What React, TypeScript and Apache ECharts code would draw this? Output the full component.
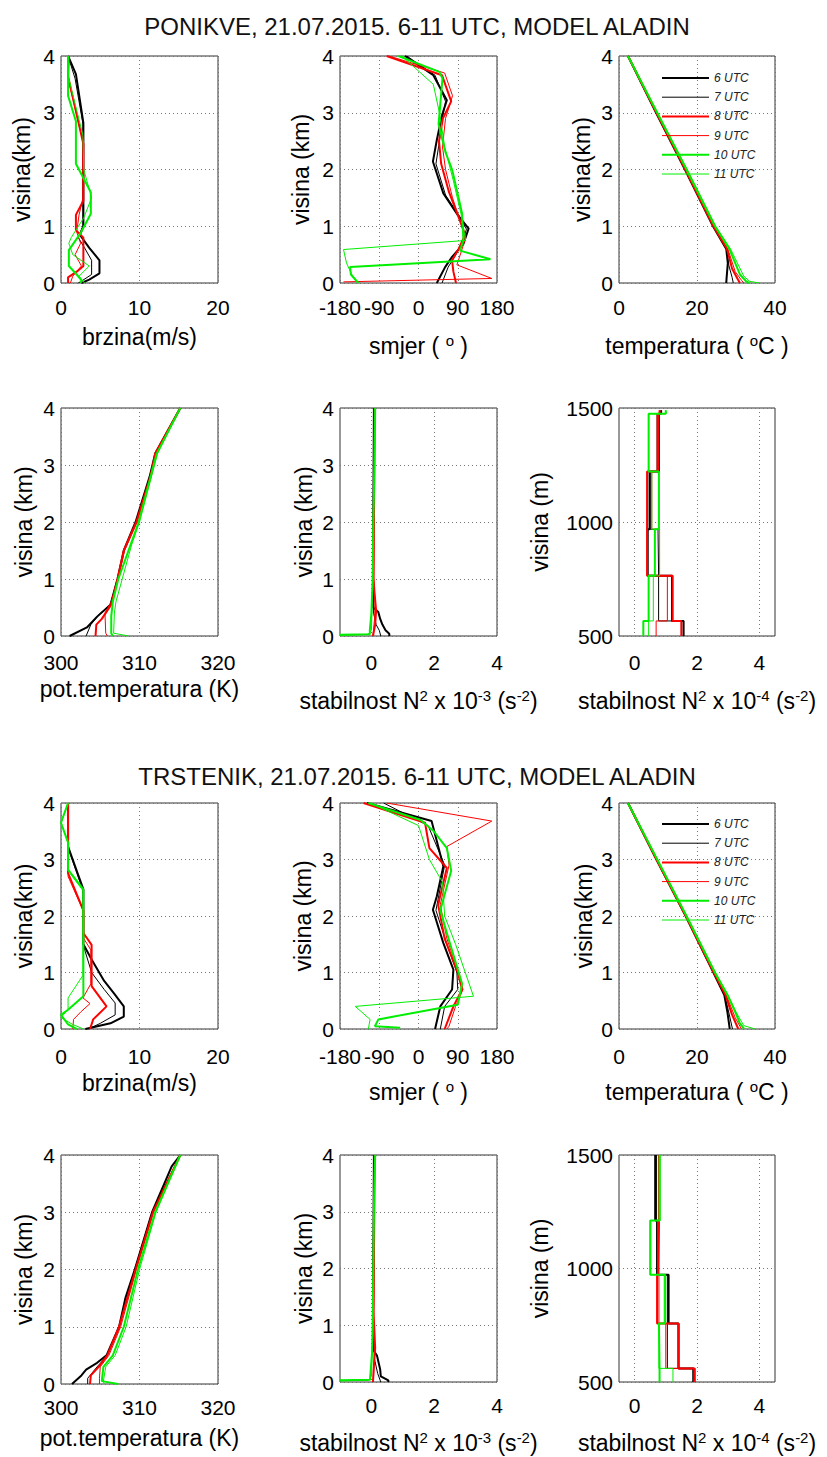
import React, { useEffect, useRef } from "react";
import * as echarts from "echarts";

type Pt = [number, number];

const HOURS = ["6 UTC", "7 UTC", "8 UTC", "9 UTC", "10 UTC", "11 UTC"];
const TITLE_TOP = "PONIKVE, 21.07.2015. 6-11 UTC, MODEL ALADIN";
const TITLE_BOTTOM = "TRSTENIK, 21.07.2015. 6-11 UTC, MODEL ALADIN";

// ---------- PONIKVE ----------
const PON_BRZINA: Pt[][] = [
  [[0.9, 4], [1.9, 3.68], [2.85, 2.82], [2.85, 1.0], [2.4, 0.85], [3.6, 0.62], [4.9, 0.4], [4.9, 0.17], [3.6, 0.06], [2.6, 0]],
  [[0.9, 4], [1.8, 3.6], [2.8, 2.8], [2.8, 1.0], [2.2, 0.8], [3.0, 0.62], [3.9, 0.4], [3.9, 0.15], [2.8, 0.05], [2.2, 0]],
  [[1.0, 4], [0.9, 3.64], [2.85, 2.45], [2.85, 1.45], [1.9, 1.2], [1.9, 0.93], [2.85, 0.8], [2.85, 0.3], [2.0, 0.2], [0.9, 0.1], [0.9, 0]],
  [[1.0, 4], [0.9, 3.6], [2.8, 2.5], [2.8, 1.5], [2.3, 1.2], [2.0, 0.9], [2.5, 0.7], [1.8, 0.5], [2.6, 0.3], [1.5, 0.12], [1.2, 0]],
  [[0.9, 4], [0.9, 3.3], [1.9, 2.85], [1.9, 2.1], [3.8, 1.6], [3.8, 1.22], [2.5, 0.88], [1.0, 0.58], [1.0, 0.3], [2.0, 0.15], [2.6, 0.05], [2.5, 0]],
  [[0.9, 4], [1.0, 3.6], [2.8, 2.6], [2.9, 2.0], [3.9, 1.5], [2.9, 1.15], [1.3, 0.8], [1.0, 0.7], [1.5, 0.5], [3.6, 0.3], [2.3, 0.12], [3.0, 0]],
];
const PON_SMJER: Pt[][] = [
  [[-31, 4], [34, 3.66], [65, 3.22], [54, 2.96], [42, 2.52], [33, 2.14], [57, 1.58], [88, 1.22], [115, 0.96], [103, 0.69], [77, 0.46], [61, 0.28], [42, 0]],
  [[-27, 4], [38, 3.66], [62, 3.2], [55, 2.9], [46, 2.4], [40, 2.1], [62, 1.55], [92, 1.2], [110, 0.95], [100, 0.7], [82, 0.45], [68, 0.28], [54, 0]],
  [[-73, 4], [54, 3.66], [75, 3.2], [56, 2.9], [47, 2.5], [52, 2.1], [70, 1.6], [90, 1.2], [107, 0.85], [92, 0.6], [77, 0.4], [80, 0.2], [86, 0]],
  [[-68, 4], [60, 3.7], [78, 3.3], [62, 2.9], [55, 2.4], [62, 2.0], [78, 1.5], [95, 1.1], [108, 0.8], [98, 0.55], [88, 0.32], [168, 0.08], [-172, 0.02]],
  [[-46, 4], [48, 3.72], [55, 3.6], [46, 2.8], [62, 2.3], [77, 2.0], [92, 1.5], [100, 1.22], [103, 0.75], [95, 0.57], [165, 0.42], [-157, 0.28], [-155, 0.15], [-140, 0.02], [-138, 0]],
  [[-38, 4], [34, 3.5], [48, 3.0], [60, 2.4], [80, 1.8], [98, 1.2], [108, 0.75], [-172, 0.59], [-165, 0.35], [-150, 0.1], [-140, 0]],
];
const PON_TEMP: Pt[][] = [
  [[2.3, 4], [9.5, 3], [16.9, 2], [24.1, 1], [27.5, 0.6], [27.9, 0.35], [27.6, 0.1], [27.5, 0]],
  [[2.3, 4], [9.6, 3], [17.0, 2], [24.2, 1], [27.6, 0.6], [28.2, 0.3], [29.0, 0.1], [29.3, 0]],
  [[2.3, 4], [9.6, 3], [17.0, 2], [24.2, 1], [27.7, 0.6], [29.0, 0.25], [30.5, 0.06], [31.0, 0]],
  [[2.3, 4], [9.7, 3], [17.1, 2], [24.3, 1], [27.9, 0.6], [29.8, 0.2], [31.5, 0.04], [32.0, 0]],
  [[2.3, 4], [9.8, 3], [17.3, 2], [24.6, 1], [28.3, 0.6], [31.0, 0.15], [32.6, 0.03], [33.5, 0]],
  [[2.3, 4], [9.9, 3], [17.5, 2], [24.8, 1], [28.6, 0.6], [32.0, 0.12], [33.5, 0.03], [36.0, 0]],
];
const PON_POT: Pt[][] = [
  [[315.2, 4], [312.0, 3.2], [311.3, 2.8], [309.5, 2.0], [308.0, 1.5], [307.2, 1.0], [306.3, 0.55], [304.6, 0.34], [303.3, 0.15], [301.1, 0]],
  [[315.2, 4], [312.0, 3.2], [311.4, 2.8], [309.6, 2.0], [308.0, 1.5], [307.2, 1.0], [306.3, 0.55], [305.0, 0.4], [303.8, 0.2], [303.2, 0]],
  [[315.2, 4], [312.0, 3.2], [311.4, 2.8], [309.6, 2.0], [308.0, 1.5], [307.2, 1.0], [306.4, 0.55], [305.2, 0.3], [304.5, 0.2], [304.4, 0]],
  [[315.2, 4], [312.1, 3.2], [311.5, 2.8], [309.7, 2.0], [308.1, 1.5], [307.3, 1.0], [306.4, 0.6], [305.6, 0.4], [305.7, 0.05], [305.9, 0]],
  [[315.2, 4], [312.2, 3.2], [309.9, 2.0], [308.6, 1.5], [307.3, 1.0], [306.6, 0.6], [306.4, 0.35], [306.4, 0.05], [306.6, 0]],
  [[315.2, 4], [312.3, 3.2], [310.0, 2.0], [309.0, 1.6], [307.8, 1.0], [307.0, 0.6], [306.8, 0.4], [306.7, 0.05], [308.6, 0]],
];
const PON_N2: Pt[][] = [
  [[0.08, 4], [0.06, 2], [0.05, 1], [0.06, 0.5], [0.22, 0.42], [0.28, 0.3], [0.35, 0.2], [0.45, 0.1], [0.57, 0.04], [0.57, 0]],
  [[0.08, 4], [0.06, 2], [0.05, 1], [0.07, 0.4], [0.15, 0.2], [0.25, 0.1], [0.3, 0]],
  [[0.1, 4], [0.08, 2], [0.07, 1], [0.1, 0.75], [0.15, 0.45], [0.12, 0.2], [0.05, 0]],
  [[0.1, 4], [0.08, 2], [0.07, 1], [0.12, 0.6], [0.1, 0.3], [0.05, 0]],
  [[0.12, 4], [0.1, 3], [0.06, 2], [0.04, 1], [0.0, 0.4], [-0.05, 0.1], [-0.05, 0.03], [-1, 0.02]],
  [[0.12, 4], [0.1, 3], [0.06, 2], [0.05, 1], [0.02, 0.5], [0, 0.1], [-0.1, 0.03], [-1, 0.01]],
];
const PON_LEVELS = [500, 566, 764, 968, 1222, 1475, 1490];
const PON_N2B: number[][] = [
  [1.57, 1.2, 0.42, 0.48, 0.78, 0.85],
  [1.5, 0.77, 0.75, 0.5, 0.72, 0.85],
  [1.5, 1.22, 0.4, 0.4, 0.75, 0.8],
  [0.69, 1.05, 0.8, 0.55, 0.72, 0.8],
  [0.28, 0.45, 0.65, 0.78, 0.45, 1.0],
  [0.45, 0.6, 0.8, 0.55, 0.45, 1.0],
];

// ---------- TRSTENIK ----------
const TRS_BRZINA: Pt[][] = [
  [[0.9, 4], [0.9, 3.23], [2.85, 2.47], [2.85, 1.5], [3.9, 1.23], [5.5, 0.85], [6.8, 0.62], [8.0, 0.4], [8.0, 0.22], [6.3, 0.1], [3.1, 0]],
  [[0.9, 4], [0.9, 3.2], [2.8, 2.45], [2.8, 1.5], [3.9, 1.0], [5.5, 0.7], [6.9, 0.46], [6.9, 0.25], [5.0, 0.1], [3.5, 0]],
  [[0.9, 4], [0.9, 2.76], [2.85, 2.1], [2.85, 1.7], [3.9, 1.49], [3.9, 0.76], [5.8, 0.4], [4.1, 0.17], [3.7, 0]],
  [[0.9, 4], [0.9, 2.7], [2.8, 2.1], [2.9, 1.6], [3.8, 1.4], [3.8, 0.8], [2.8, 0.55], [3.7, 0.45], [2.5, 0.3], [1.6, 0.17], [1.5, 0]],
  [[0.9, 4], [0, 3.65], [0.9, 3.3], [0.9, 2.82], [2.85, 2.47], [2.85, 0.58], [0.9, 0.34], [0, 0.25], [0.9, 0.08], [2.0, 0]],
  [[0.9, 4], [0, 3.65], [0.9, 3.3], [0.9, 2.8], [2.8, 2.45], [2.8, 0.95], [0.9, 0.55], [0.9, 0.35], [0, 0.2], [1.5, 0.08], [2.85, 0]],
];
const TRS_SMJER: Pt[][] = [
  [[-118, 4], [30, 3.68], [57, 2.88], [42, 2.35], [33, 2.11], [57, 1.52], [80, 1.05], [77, 0.7], [50, 0.4], [38, 0]],
  [[-80, 4], [22, 3.6], [60, 2.9], [40, 2.1], [65, 1.5], [88, 1.0], [90, 0.7], [60, 0.4], [50, 0]],
  [[-126, 4], [15, 3.65], [25, 3.2], [65, 2.85], [45, 2.2], [60, 1.6], [90, 1.0], [100, 0.7], [80, 0.4], [65, 0.1], [60, 0]],
  [[-73, 4], [168, 3.68], [65, 3.23], [70, 2.9], [50, 2.2], [65, 1.6], [92, 1.0], [102, 0.7], [85, 0.4], [70, 0.05], [65, 0]],
  [[-115, 4], [5, 3.7], [35, 3.5], [65, 3.2], [75, 2.8], [50, 2.1], [65, 1.7], [100, 0.8], [90, 0.43], [-92, 0.17], [-100, 0.05], [-42, 0.02]],
  [[-110, 4], [0, 3.6], [25, 3.0], [55, 2.6], [60, 2.0], [85, 1.5], [126, 0.58], [-145, 0.4], [-111, 0.17], [-115, 0]],
];
const TRS_TEMP: Pt[][] = [
  [[2.3, 4], [9.6, 3], [17.1, 2], [24.2, 1], [27.0, 0.6], [27.8, 0.3], [28.4, 0]],
  [[2.3, 4], [9.6, 3], [17.1, 2], [24.2, 1], [27.1, 0.6], [28.3, 0.25], [29.1, 0]],
  [[2.3, 4], [9.6, 3], [17.1, 2], [24.3, 1], [27.3, 0.6], [29.0, 0.25], [30.6, 0]],
  [[2.3, 4], [9.7, 3], [17.2, 2], [24.4, 1], [27.5, 0.6], [29.8, 0.2], [31.4, 0]],
  [[2.3, 4], [9.8, 3], [17.3, 2], [24.6, 1], [27.8, 0.6], [29.5, 0.35], [31.0, 0.1], [31.9, 0.02], [32.0, 0]],
  [[2.3, 4], [9.9, 3], [17.4, 2], [24.7, 1], [28.0, 0.6], [30.0, 0.3], [32.0, 0.06], [34.9, 0]],
];
const TRS_POT: Pt[][] = [
  [[315.2, 4], [314.1, 3.8], [311.6, 3.0], [309.4, 2.0], [308.2, 1.5], [307.4, 1.0], [305.8, 0.5], [304.6, 0.37], [303.2, 0.25], [302.6, 0.15], [301.4, 0]],
  [[315.2, 4], [311.6, 3.0], [309.4, 2.0], [307.4, 1.0], [305.9, 0.5], [304.6, 0.3], [303.4, 0.1], [303.4, 0]],
  [[315.2, 4], [311.7, 3.0], [309.5, 2.0], [307.4, 1.0], [305.9, 0.5], [304.8, 0.3], [303.8, 0.15], [303.7, 0]],
  [[315.2, 4], [311.8, 3.0], [309.6, 2.0], [307.6, 1.0], [306.1, 0.5], [305.0, 0.3], [304.9, 0.1], [304.9, 0]],
  [[315.2, 4], [312.0, 3.0], [309.8, 2.0], [308.0, 1.0], [306.6, 0.5], [305.4, 0.3], [305.2, 0.05], [307.3, 0]],
  [[315.2, 4], [312.1, 3.0], [310.0, 2.0], [308.3, 1.0], [306.9, 0.5], [305.7, 0.3], [305.4, 0.05], [305.5, 0]],
];
const TRS_N2: Pt[][] = [
  [[0.08, 4], [0.06, 2], [0.05, 1], [0.08, 0.55], [0.18, 0.46], [0.28, 0.22], [0.3, 0.1], [0.54, 0.03], [0.54, 0]],
  [[0.08, 4], [0.06, 2], [0.05, 1], [0.1, 0.4], [0.2, 0.15], [0.3, 0]],
  [[0.1, 4], [0.08, 2], [0.07, 1.2], [0.12, 0.6], [0.08, 0.3], [0.05, 0]],
  [[0.1, 4], [0.08, 2], [0.07, 1], [0.1, 0.5], [0.06, 0]],
  [[0.12, 4], [0.08, 3], [0.06, 2], [0.04, 1], [0.02, 0.5], [-0.04, 0.08], [-0.04, 0.04], [-1, 0.03]],
  [[0.12, 4], [0.08, 3], [0.06, 2], [0.05, 1], [0.02, 0.5], [0, 0.1], [-0.1, 0.03], [-1, 0.02]],
];
const TRS_LEVELS = [500, 560, 758, 973, 1211, 1500];
const TRS_N2B: number[][] = [
  [1.89, 1.41, 1.09, 0.72, 0.66],
  [1.87, 1.05, 1.05, 0.75, 0.7],
  [1.93, 1.4, 0.72, 0.75, 0.78],
  [1.9, 1.0, 0.78, 0.8, 0.78],
  [0.8, 0.78, 0.98, 0.5, 0.8],
  [1.23, 0.78, 0.95, 0.52, 0.82],
];

// ---------- styles / layout ----------
const FONT = "'Liberation Sans', Arial, Helvetica, sans-serif";
const LINE_STYLES = [
  { color: "#000000", width: 2 },
  { color: "#000000", width: 1 },
  { color: "#ff0000", width: 2 },
  { color: "#ff0000", width: 1 },
  { color: "#00ee00", width: 2 },
  { color: "#00ee00", width: 1 },
];
const ROW_TOP = [56, 408, 803, 1155];
const ROW_H = [227, 228, 226, 229];
const COL_LEFT = [61, 340, 619];
const COL_W = [157, 157, 156];
const ROW_LABEL_MARGIN = [14, 16, 17, 13];
const ROW_NAME_GAP = [41, 40, 41, 41];
const ROW_RICH_GAP = [50, 52, 50, 48];

const stairs = (levels: number[], vals: number[]): Pt[] => {
  const pts: Pt[] = vals.map((v, i) => [v, levels[i]] as Pt);
  pts.push([vals[vals.length - 1], levels[levels.length - 1]]);
  return pts;
};

const N2_3 = "stabilnost N{s|2} x 10{s|-3} (s{s|-2})";
const N2_4 = "stabilnost N{s|2} x 10{s|-4} (s{s|-2})";

interface Panel {
  r: number;
  c: number;
  x: { min: number; max: number; interval?: number; custom?: number[] };
  ym: boolean;
  xName: string;
  rich: boolean;
  yName: string;
  yGap: number;
  lines: Pt[][];
  step?: boolean;
}

const PANELS: Panel[] = [
  { r: 0, c: 0, x: { min: 0, max: 20, interval: 10 }, ym: false, xName: "brzina(m/s)", rich: false, yName: "visina(km)", yGap: 26, lines: PON_BRZINA },
  { r: 0, c: 1, x: { min: -180, max: 180, interval: 90 }, ym: false, xName: "smjer ( {s|o} )", rich: true, yName: "visina (km)", yGap: 26, lines: PON_SMJER },
  { r: 0, c: 2, x: { min: 0, max: 40, interval: 20 }, ym: false, xName: "temperatura ( {s|o}C )", rich: true, yName: "visina(km)", yGap: 24, lines: PON_TEMP },
  { r: 1, c: 0, x: { min: 300, max: 320, interval: 10 }, ym: false, xName: "pot.temperatura (K)", rich: false, yName: "visina (km)", yGap: 24, lines: PON_POT },
  { r: 1, c: 1, x: { min: -1, max: 4, custom: [0, 2, 4] }, ym: false, xName: N2_3, rich: true, yName: "visina (km)", yGap: 23, lines: PON_N2 },
  { r: 1, c: 2, x: { min: -0.5, max: 4.5, custom: [0, 2, 4] }, ym: true, xName: N2_4, rich: true, yName: "visina (m)", yGap: 66, lines: PON_N2B.map((v) => stairs(PON_LEVELS, v)), step: true },
  { r: 2, c: 0, x: { min: 0, max: 20, interval: 10 }, ym: false, xName: "brzina(m/s)", rich: false, yName: "visina(km)", yGap: 24, lines: TRS_BRZINA },
  { r: 2, c: 1, x: { min: -180, max: 180, interval: 90 }, ym: false, xName: "smjer ( {s|o} )", rich: true, yName: "visina (km)", yGap: 24, lines: TRS_SMJER },
  { r: 2, c: 2, x: { min: 0, max: 40, interval: 20 }, ym: false, xName: "temperatura ( {s|o}C )", rich: true, yName: "visina(km)", yGap: 22, lines: TRS_TEMP },
  { r: 3, c: 0, x: { min: 300, max: 320, interval: 10 }, ym: false, xName: "pot.temperatura (K)", rich: false, yName: "visina (km)", yGap: 24, lines: TRS_POT },
  { r: 3, c: 1, x: { min: -1, max: 4, custom: [0, 2, 4] }, ym: false, xName: N2_3, rich: true, yName: "visina (km)", yGap: 23, lines: TRS_N2 },
  { r: 3, c: 2, x: { min: -0.5, max: 4.5, custom: [0, 2, 4] }, ym: true, xName: N2_4, rich: true, yName: "visina (m)", yGap: 66, lines: TRS_N2B.map((v) => stairs(TRS_LEVELS, v)), step: true },
];

const splitLine = { show: true, lineStyle: { color: "#777", width: 1, type: [1, 3] } };
const nameStyle = {
  fontSize: 23,
  lineHeight: 26,
  color: "#000",
  fontFamily: FONT,
  rich: { s: { fontSize: 15, lineHeight: 16, verticalAlign: "top", color: "#000", fontFamily: FONT } },
};
const plainNum = (v: number) => String(v);

function buildOption(): any {
  const grid = PANELS.map((p) => ({
    left: COL_LEFT[p.c],
    top: ROW_TOP[p.r],
    width: COL_W[p.c],
    height: ROW_H[p.r],
    show: true,
    borderColor: "#333",
    borderWidth: 1,
    backgroundColor: "transparent",
    containLabel: false,
  }));
  const xAxis = PANELS.map((p, i) => ({
    gridIndex: i,
    type: "value",
    min: p.x.min,
    max: p.x.max,
    ...(p.x.interval ? { interval: p.x.interval } : {}),
    axisLine: { show: false },
    axisTick: { show: false, ...(p.x.custom ? { customValues: p.x.custom } : {}) },
    axisLabel: {
      fontSize: 21,
      color: "#000",
      fontFamily: FONT,
      margin: ROW_LABEL_MARGIN[p.r],
      formatter: plainNum,
      ...(p.x.custom ? { customValues: p.x.custom } : {}),
    },
    splitLine,
    name: p.xName,
    nameLocation: "middle",
    nameGap: p.rich ? ROW_RICH_GAP[p.r] : ROW_NAME_GAP[p.r],
    nameTextStyle: nameStyle,
  }));
  const yAxis = PANELS.map((p, i) => ({
    gridIndex: i,
    type: "value",
    min: p.ym ? 500 : 0,
    max: p.ym ? 1500 : 4,
    interval: p.ym ? 500 : 1,
    axisLine: { show: false },
    axisTick: { show: false },
    axisLabel: { fontSize: 21, color: "#000", fontFamily: FONT, margin: 6, formatter: plainNum },
    splitLine,
    name: p.yName,
    nameLocation: "middle",
    nameRotate: 90,
    nameGap: p.yGap,
    nameTextStyle: nameStyle,
  }));
  const series: any[] = [];
  PANELS.forEach((p, i) => {
    p.lines.forEach((data, j) => {
      series.push({
        type: "line",
        name: HOURS[j],
        xAxisIndex: i,
        yAxisIndex: i,
        data,
        symbol: "none",
        showSymbol: false,
        step: p.step ? "start" : false,
        silent: true,
        lineStyle: { color: LINE_STYLES[j].color, width: LINE_STYLES[j].width },
        itemStyle: { color: LINE_STYLES[j].color },
        emphasis: { disabled: true },
      });
    });
  });
  const legendBase = {
    orient: "vertical",
    left: 661,
    padding: 0,
    itemWidth: 47,
    itemHeight: 14,
    itemGap: 5.2,
    selectedMode: false,
    data: HOURS,
    itemStyle: { opacity: 0 },
    lineStyle: { width: "inherit" },
    textStyle: { fontSize: 12, lineHeight: 14, fontStyle: "italic", color: "#222", fontFamily: FONT },
  };
  return {
    animation: false,
    backgroundColor: "#ffffff",
    textStyle: { fontFamily: FONT },
    title: [
      { text: TITLE_TOP, left: 417, textAlign: "center", top: 14, padding: 0, textStyle: { fontSize: 24, fontWeight: "normal", color: "#111", fontFamily: FONT } },
      { text: TITLE_BOTTOM, left: 417, textAlign: "center", top: 764, padding: 0, textStyle: { fontSize: 24, fontWeight: "normal", color: "#111", fontFamily: FONT } },
    ],
    legend: [
      { ...legendBase, top: 71 },
      { ...legendBase, top: 817 },
    ],
    grid,
    xAxis,
    yAxis,
    series,
  };
}

export default function App() {
  const ref = useRef<HTMLDivElement>(null);
  useEffect(() => {
    if (!ref.current) return;
    const chart = echarts.init(ref.current, null, { renderer: "svg" });
    chart.setOption(buildOption());
    return () => chart.dispose();
  }, []);
  return (
    <div
      ref={ref}
      style={{ position: "absolute", left: 0, top: 0, width: 827, height: 1457, background: "#fff" }}
    />
  );
}
